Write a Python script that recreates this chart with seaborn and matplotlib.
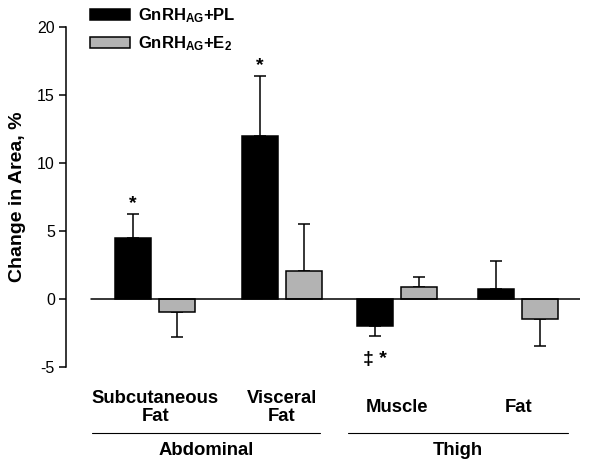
import matplotlib
matplotlib.use("Agg")
import matplotlib.pyplot as plt
import matplotlib.transforms as mtransforms
import numpy as np
import pandas as pd
import seaborn as sns

# ---- data ----
categories = ["Subcutaneous\nFat", "Visceral\nFat", "Muscle", "Fat"]
regions = ["Abdominal", "Thigh"]
region_members = [[0, 1], [2, 3]]
series = [r"GnRH$_{\mathbf{AG}}$+PL", r"GnRH$_{\mathbf{AG}}$+E$_{\mathbf{2}}$"]
pl_values = [4.5, 12.0, -2.0, 0.75]
e2_values = [-0.95, 2.05, 0.9, -1.45]
pl_err = [1.75, 4.4, 0.7, 2.05]
e2_err = [1.85, 3.45, 0.7, 2.0]
pl_marks = ["*", "*", "\u2021 *", ""]
e2_marks = ["", "", "", ""]
yticks = [-5, 0, 5, 10, 15, 20]

# ---- layout ----
group_pos = [0.0, 1.045, 2.0, 3.0]
colors = ["black", "#b3b3b3"]

sns.set_style("ticks")
plt.rcParams["font.family"] = ["Liberation Sans", "DejaVu Sans"]
plt.rcParams["mathtext.fontset"] = "custom"
plt.rcParams["mathtext.rm"] = "Liberation Sans"
plt.rcParams["mathtext.bf"] = "Liberation Sans:bold"
plt.rcParams["mathtext.it"] = "Liberation Sans:italic"
for k in ["text.color", "axes.labelcolor", "xtick.color", "ytick.color",
          "axes.edgecolor"]:
    plt.rcParams[k] = "black"

df = pd.DataFrame({
    "pos": group_pos * 2,
    "series": [series[0]] * 4 + [series[1]] * 4,
    "value": pl_values + e2_values,
})

fig = plt.figure(figsize=(6, 4.63), dpi=100)
ax = fig.add_axes([0.11, 0.2073, 0.857, 0.7344])

sns.barplot(data=df, x="pos", y="value", hue="series", hue_order=series,
            palette=colors, native_scale=True, width=0.76, gap=0.18,
            errorbar=None, edgecolor="black", linewidth=1.1, saturation=1,
            ax=ax, zorder=2)

all_vals = [pl_values, e2_values]
all_errs = [pl_err, e2_err]
all_marks = [pl_marks, e2_marks]
for cont, vals, errs, marks in zip(ax.containers, all_vals, all_errs, all_marks):
    for bar, v, e, m in zip(cont, vals, errs, marks):
        x = bar.get_x() + bar.get_width() / 2
        lo = e if v < 0 else 0
        up = e if v >= 0 else 0
        ax.errorbar(x, v, yerr=[[lo], [up]], fmt="none", ecolor="black",
                    elinewidth=1.1, capsize=4, capthick=1.1, zorder=1)
        if m:
            sign = 1 if v >= 0 else -1
            end = v + sign * e
            off = 0.15 if sign > 0 else 1.1
            ax.text(x, end + sign * off, m, ha="center",
                    va="bottom" if sign > 0 else "top",
                    fontsize=14, fontweight="bold", color="black")

ax.axhline(0, xmin=0.049, xmax=1, color="black", lw=1.1, zorder=3)

ax.set_xlim(-0.736, 3.512)
ax.set_ylim(-5, 20)
ax.set_yticks(yticks)
ax.set_yticklabels([str(t) for t in yticks], fontsize=11.5)
ax.set_xticks(group_pos)
ax.set_xticklabels(categories, fontsize=13.3, fontweight="bold",
                   va="center", linespacing=1.05)
ax.tick_params(axis="x", length=0, pad=29, labelcolor="black")
ax.tick_params(axis="y", length=5, width=1.1, pad=3, color="black",
               labelcolor="black")
for s in ["top", "right", "bottom"]:
    ax.spines[s].set_visible(False)
ax.spines["left"].set_linewidth(1.1)
ax.spines["left"].set_color("black")
ax.set_xlabel("")
ax.set_ylabel("Change in Area, %", fontsize=14, fontweight="bold",
              labelpad=8, color="black")

# region brackets
trans = mtransforms.blended_transform_factory(ax.transData, ax.transAxes)
line_ext = [(-0.52, 0.32), (-0.405, 0.413)]
for name, mem, (l, r) in zip(regions, region_members, line_ext):
    x0 = group_pos[mem[0]] + l
    x1 = group_pos[mem[-1]] + r
    ax.plot([x0, x1], [-0.194, -0.194], transform=trans, color="black",
            lw=0.8, clip_on=False)
    ax.text((x0 + x1) / 2, -0.246, name, transform=trans, ha="center",
            va="center", fontsize=13.3, fontweight="bold", color="black")

# legend
handles, labels = ax.get_legend_handles_labels()
if ax.legend_:
    ax.legend_.remove()
leg = fig.legend(handles, labels, loc="upper left",
                 bbox_to_anchor=(0.13, 1.012), frameon=False,
                 prop={"weight": "bold", "size": 12},
                 handlelength=2.4, handleheight=0.65, labelspacing=0.55,
                 handletextpad=0.5, borderpad=0.2, labelcolor="black")

fig.savefig("out.png", dpi=100)
